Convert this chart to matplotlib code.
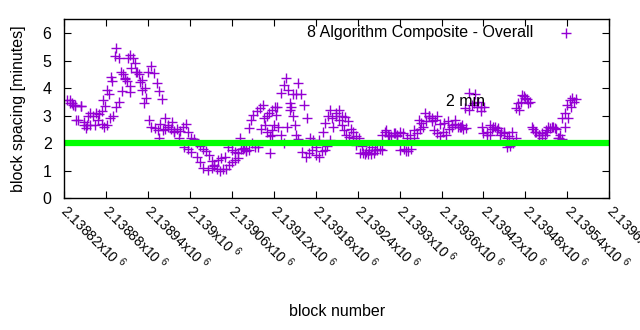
import numpy as np
import matplotlib
matplotlib.use("Agg")
import matplotlib.pyplot as plt
from matplotlib.transforms import ScaledTranslation

plt.rcParams["font.family"] = ["Liberation Sans", "DejaVu Sans"]
plt.rcParams["mathtext.default"] = "regular"

# block spacing (minutes) at even steps from left to right
spacing = [
    3.55, 3.45, 3.4, 3.35, 2.85, 3.35, 2.75, 2.65, 2.65, 3.0, 3.1, 3.05,
    2.7, 2.6, 2.65, 2.9, 3.0, 3.3, 3.5, 3.9, 4.35, 5.1, 5.2, 5.1,
    4.6, 4.5, 4.3, 4.0, 4.6, 4.8, 4.55, 4.2, 3.9, 3.6, 2.9, 2.65,
    2.5, 2.45, 2.5, 2.45, 2.6, 2.7, 2.4, 2.2, 2.15, 2.0, 1.9, 1.8,
    1.7, 1.55, 1.35, 1.15, 1.05, 1.0, 1.05, 1.05, 1.2, 1.3, 1.4, 1.45,
    1.8, 1.8, 1.7, 1.75, 2.0, 1.85, 1.85, 2.5, 2.9, 3.0, 3.1, 3.2,
    3.3, 2.6, 2.3, 2.0, 2.6, 3.2, 3.8, 3.8, 4.2, 3.8, 3.4, 2.9,
    2.2, 2.1, 1.55, 1.5, 1.7, 1.75, 1.9, 2.1, 2.6, 3.0, 3.2, 3.0,
    2.95, 2.8, 2.5, 2.4, 2.25, 2.2, 1.9, 1.6, 1.6, 1.6, 1.65, 1.75,
    1.8, 1.75, 2.4, 2.3, 2.25, 2.35, 2.25, 2.4, 2.35, 1.7, 1.7, 1.8,
    2.2, 2.35, 2.5, 2.6, 2.8, 3.0, 2.8, 2.85, 3.0, 2.7, 2.4, 2.3,
    2.5, 2.6, 2.7, 2.6, 2.6, 2.5, 2.55, 3.2, 3.4, 3.8, 3.5, 3.3,
    3.3, 2.4, 2.3, 2.5, 2.6, 2.55, 2.4, 2.35, 2.2, 1.9, 2.0, 2.2,
    3.2, 3.5, 3.7, 3.6, 3.5, 2.5, 2.4, 2.3, 2.2, 2.3, 2.4, 2.55,
    2.6, 2.5, 2.2, 2.15, 2.6, 2.9, 3.3, 3.5, 3.6,
]
first_block = 2138824
last_block = 2139553
blocks = np.linspace(first_block, last_block, len(spacing))

# further points read from zoomed views
extra_blocks = [
    2138829, 2138831, 2138836, 2138837, 2138844, 2138848, 2138851, 2138857,
    2138855, 2138865, 2138869, 2138874, 2138876, 2138879, 2138882, 2138884,
    2138887, 2138889, 2138893, 2138895, 2138898, 2138901, 2138904, 2138907,
    2138910, 2138914, 2138915, 2138916, 2138922, 2138925, 2138929, 2138932,
    2138934, 2138937, 2138941, 2138945, 2138950, 2138955, 2138956, 2138958,
    2138962, 2138965, 2138969, 2138974, 2138978, 2138985, 2138992, 2138998,
    2139002, 2139010, 2139014, 2139019, 2139026, 2139031, 2139035, 2139041,
    2139045, 2139050, 2139055, 2139060, 2139064, 2139069, 2139072, 2139078,
    2139081, 2139085, 2139088, 2139091, 2139096, 2139101, 2139105, 2139108,
    2139111, 2139114, 2139115, 2139117, 2139118, 2139121, 2139123, 2139125,
    2139131, 2139135, 2139138, 2139140, 2139143, 2139145, 2139147, 2139150,
    2139152, 2139155, 2139161, 2139166, 2139171, 2139175, 2139181, 2139185,
    2139190, 2139194, 2139197, 2139201, 2139204, 2139209, 2139214, 2139218,
    2139221, 2139224, 2139228, 2139233, 2139238, 2139243, 2139247, 2139252,
    2139257, 2139261, 2139265, 2139275, 2139280, 2139285, 2139293, 2139297,
    2139301, 2139306, 2139311, 2139315, 2139321, 2139328, 2139331, 2139337,
    2139342, 2139347, 2139349, 2139354, 2139358, 2139364, 2139370, 2139375,
    2139380, 2139386, 2139390, 2139394, 2139400, 2139407, 2139411, 2139416,
    2139418, 2139420, 2139425, 2139430, 2139434, 2139440, 2139444, 2139449,
    2139454, 2139456, 2139461, 2139466, 2139470, 2139475, 2139480, 2139484,
    2139489, 2139494, 2139499, 2139504, 2139509, 2139513, 2139518, 2139523,
    2139527, 2139530, 2139533, 2139536, 2139540, 2139544, 2139547,
]
extra_spacing = [
    3.58, 3.45, 3.4, 2.85, 3.35, 2.65, 2.55, 3.1,
    3.0, 2.65, 2.85, 3.15, 3.58, 3.36, 3.94, 3.8,
    4.42, 4.25, 5.18, 5.47, 5.1, 4.6, 4.5, 4.37,
    4.25, 4.09, 3.87, 4.74, 4.92, 4.6, 4.23, 3.94,
    3.47, 3.65, 2.85, 2.6, 2.55, 2.48, 2.2, 2.7,
    2.48, 2.5, 2.6, 2.77, 2.41, 2.19, 1.86, 1.8,
    1.68, 1.5, 1.31, 1.09, 1.02, 1.09, 1.2, 1.39,
    1.45, 1.5, 1.87, 1.75, 1.68, 1.64, 2.19, 1.82,
    1.75, 2.55, 2.85, 3.03, 3.15, 3.28, 3.39, 2.66,
    2.42, 2.24, 1.64, 2.3, 2.48, 2.66, 3.03, 3.33,
    3.83, 4.12, 4.37, 3.94, 3.47, 3.3, 2.97, 2.66,
    2.3, 2.15, 1.69, 1.51, 1.63, 1.75, 1.87, 2.12,
    2.42, 2.73, 2.97, 3.21, 2.92, 3.1, 2.85, 2.66,
    2.48, 2.3, 2.23, 2.19, 1.93, 1.63, 1.63, 1.69,
    1.75, 1.87, 1.75, 2.3, 2.48, 2.24, 2.37, 2.3,
    1.75, 1.8, 2.19, 2.3, 2.48, 2.85, 2.73, 3.1,
    2.97, 2.9, 2.48, 2.37, 2.24, 2.73, 2.79, 2.66,
    2.85, 2.6, 2.66, 3.28, 3.83, 3.47, 3.33, 3.15,
    2.6, 2.37, 2.3, 2.66, 2.6, 2.48, 2.3, 2.42,
    1.87, 2.24, 2.42, 3.28, 3.47, 3.76, 3.65, 3.47,
    2.6, 2.42, 2.3, 2.37, 2.48, 2.6, 2.6, 2.55,
    2.19, 2.3, 2.92, 3.1, 3.39, 3.58, 3.65,
]

tick_blocks = [2138820 + 60 * k for k in range(14)]
tick_labels = ["2.13882", "2.13888", "2.13894", "2.139", "2.13906", "2.13912",
               "2.13918", "2.13924", "2.1393", "2.13936", "2.13942", "2.13948",
               "2.13954", "2.1396"]

target = 2.0
x_min, x_max = 2138820, 2139600
fs = 11.5

fig = plt.figure(figsize=(6.4, 3.3), dpi=100)
ax = fig.add_axes([0.1, 0.4, 0.852, 0.541])

purple = "#9400d3"
all_blocks = np.concatenate([blocks, extra_blocks])
all_spacing = np.concatenate([spacing, extra_spacing])
ax.plot(all_blocks, all_spacing, linestyle="none", marker="+", color=purple,
        markersize=7, markeredgewidth=1.0)
ax.plot([first_block, x_max], [target, target], color="#00ff00", linewidth=4.5)

ax.text(2139367, 3.5, "2 min", fontsize=fs, va="center", ha="left")

# key in the top right corner
ax.text(0.86, 0.925, "8 Algorithm Composite - Overall", transform=ax.transAxes,
        fontsize=fs, ha="right", va="center")
ax.plot([0.921], [0.925], transform=ax.transAxes, marker="+", color=purple,
        markersize=7, markeredgewidth=1.0, linestyle="none")

ax.set_xlim(x_min, x_max)
ax.set_ylim(0, 6.5)
ax.set_yticks(range(0, 7))
ax.set_xticks(tick_blocks)
ax.set_xticklabels([t + "x10 $^{6}$" for t in tick_labels], rotation=-45,
                   ha="left", va="center", rotation_mode="anchor")
shift = ScaledTranslation(1 / 72, 0, fig.dpi_scale_trans)
for lab in ax.get_xticklabels():
    lab.set_transform(lab.get_transform() + shift)
ax.tick_params(direction="in", length=5, top=True, right=True, labelsize=fs,
               width=0.8)
ax.tick_params(axis="x", pad=7, labelsize=10)
ax.tick_params(axis="y", pad=9)
for s in ax.spines.values():
    s.set_linewidth(1.0)

ax.set_xlabel("block number", fontsize=fs, labelpad=22)
ax.set_ylabel("block spacing [minutes]", fontsize=fs, labelpad=12)

fig.savefig("out.png", dpi=100)
